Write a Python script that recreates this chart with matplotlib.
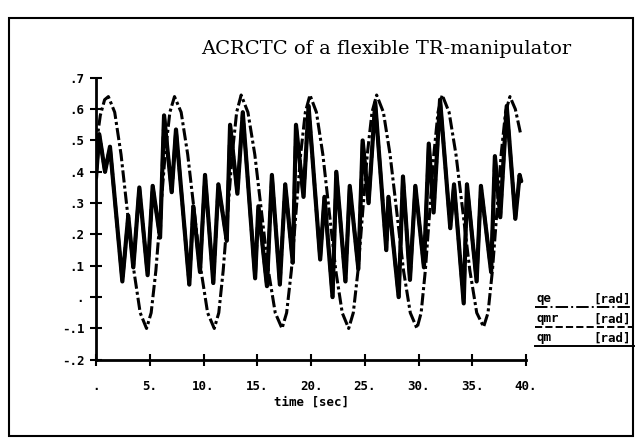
import matplotlib
matplotlib.use('Agg')
import matplotlib.pyplot as plt
from matplotlib.lines import Line2D
from matplotlib.patches import Rectangle

# qe: slow reference swing (dash-dot)
qe_t = [0.0, 0.4, 0.8, 1.15,
        1.74, 2.33, 2.93, 3.52, 4.11, 4.7, 5.13, 5.57, 6.0, 6.43, 6.87, 7.3,
        7.92, 8.53, 9.15, 9.77, 10.38, 11.0, 11.42, 11.83, 12.25, 12.67, 13.08, 13.5,
        14.13, 14.77, 15.4, 16.03, 16.67, 17.3, 17.73, 18.17, 18.6, 19.03, 19.47, 19.9,
        20.5, 21.1, 21.7, 22.3, 22.9, 23.5, 23.93, 24.37, 24.8, 25.23, 25.67, 26.1,
        26.73, 27.35, 27.98, 28.6, 29.23, 29.85, 30.24, 30.63, 31.03, 31.42, 31.81, 32.2,
        32.84, 33.48, 34.13, 34.77, 35.41, 36.05, 36.46, 36.87, 37.28, 37.68, 38.09, 38.5,
        39.0, 39.5]
qe_v = [0.48, 0.58, 0.63, 0.64,
        0.59, 0.455, 0.27, 0.085, -0.05, -0.10, -0.05, 0.085, 0.27, 0.455, 0.59, 0.64,
        0.59, 0.455, 0.27, 0.085, -0.05, -0.10, -0.05, 0.085, 0.27, 0.455, 0.59, 0.645,
        0.59, 0.455, 0.27, 0.085, -0.05, -0.10, -0.05, 0.085, 0.27, 0.455, 0.59, 0.645,
        0.59, 0.455, 0.27, 0.085, -0.05, -0.10, -0.05, 0.085, 0.27, 0.455, 0.59, 0.645,
        0.59, 0.455, 0.27, 0.085, -0.05, -0.10, -0.05, 0.085, 0.27, 0.455, 0.59, 0.645,
        0.59, 0.455, 0.27, 0.085, -0.05, -0.095, -0.05, 0.085, 0.27, 0.455, 0.59, 0.64,
        0.60, 0.52]

qm_t = [0.0, 0.3, 0.84, 1.3, 2.45, 3.0, 3.47, 4.03, 4.8, 5.27, 5.96, 6.33, 7.04, 7.44,
        8.68, 9.05, 9.67, 10.14, 10.91, 11.38, 12.16, 12.47, 13.15, 13.65,
        14.8, 15.1, 15.9, 16.36, 17.1, 17.6, 18.3, 18.6, 19.3, 19.77,
        20.85, 21.25, 22.0, 22.35, 23.2, 23.6, 24.4, 24.8, 25.35, 25.97,
        27.0, 27.2, 28.15, 28.55, 29.2, 29.7, 30.5, 30.95, 31.4, 32.0,
        32.95, 33.3, 34.2, 34.5, 35.4, 35.8, 36.75, 37.1, 37.6, 38.2,
        39.0, 39.4, 39.55]
qm_v = [0.38, 0.52, 0.40, 0.48, 0.05, 0.26, 0.095, 0.35, 0.07, 0.355, 0.19, 0.58, 0.335, 0.535,
        0.04, 0.29, 0.08, 0.39, 0.045, 0.36, 0.18, 0.55, 0.33, 0.59,
        0.06, 0.29, 0.035, 0.39, 0.04, 0.36, 0.11, 0.55, 0.32, 0.61,
        0.12, 0.32, 0.0, 0.40, 0.05, 0.355, 0.09, 0.50, 0.30, 0.62,
        0.15, 0.32, 0.0, 0.385, 0.055, 0.355, 0.095, 0.49, 0.27, 0.63,
        0.22, 0.36, -0.02, 0.36, 0.05, 0.355, 0.08, 0.45, 0.255, 0.61,
        0.25, 0.39, 0.37]

# qmr lies on top of qm in the picture
qmr_t = list(qm_t)
qmr_v = list(qm_v)

x_ticks = [0, 5, 10, 15, 20, 25, 30, 35, 40]
x_labels = ['.', '5.', '10.', '15.', '20.', '25.', '30.', '35.', '40.']
y_ticks = [-0.2, -0.1, 0.0, 0.1, 0.2, 0.3, 0.4, 0.5, 0.6, 0.7]
y_labels = ['-.2', '-.1', '.', '.1', '.2', '.3', '.4', '.5', '.6', '.7']

legend_names = ['qe', 'qmr', 'qm']
legend_styles = ['-.', '--', '-']

mono = 'DejaVu Sans Mono'

fig = plt.figure(figsize=(6.4, 4.42), dpi=100)
ax = fig.add_axes([0.15, 0.186, 0.672, 0.638])

ax.plot(qm_t, qm_v, color='black', lw=3.0, solid_joinstyle='round', solid_capstyle='round')
ax.plot(qmr_t, qmr_v, color='black', lw=2.4, ls='--')
ax.plot(qe_t, qe_v, color='black', lw=2.2, ls=(0, (4, 1, 1, 1)))

ax.set_xlim(0, 40)
ax.set_ylim(-0.2, 0.7)
for s in ['top', 'right']:
    ax.spines[s].set_visible(False)
for s in ['left', 'bottom']:
    ax.spines[s].set_linewidth(2)
ax.set_xticks(x_ticks)
ax.set_xticklabels(x_labels, fontfamily=mono, fontweight='bold', fontsize=9)
ax.set_yticks(y_ticks)
ax.set_yticklabels(y_labels, fontfamily=mono, fontweight='bold', fontsize=9)
ax.tick_params(direction='inout', length=9, width=1.5)
ax.tick_params(axis='x', pad=10)
ax.tick_params(axis='y', pad=4)
ax.set_xlabel('time [sec]', fontfamily=mono, fontweight='bold', fontsize=9, labelpad=2)

fig.text(0.603, 0.89, 'ACRCTC of a flexible TR-manipulator', family='DejaVu Serif',
         fontsize=14, ha='center', va='center')

row_y = [1 - 307 / 442, 1 - 327 / 442, 1 - 346 / 442]
for name, style, yy in zip(legend_names, legend_styles, row_y):
    fig.text(0.838, yy + 0.004, name, family=mono, fontweight='bold', fontsize=9, va='bottom')
    fig.text(0.985, yy + 0.004, '[rad]', family=mono, fontweight='bold', fontsize=9,
             va='bottom', ha='right')
    fig.add_artist(Line2D([0.836, 0.99], [yy, yy], transform=fig.transFigure,
                          color='black', lw=1.4, ls=style))

fig.add_artist(Rectangle((9 / 640, 1 - 436 / 442), 624 / 640, 418 / 442,
                         transform=fig.transFigure, fill=False, ec='black', lw=1.5))

fig.savefig('out.png', dpi=100)
